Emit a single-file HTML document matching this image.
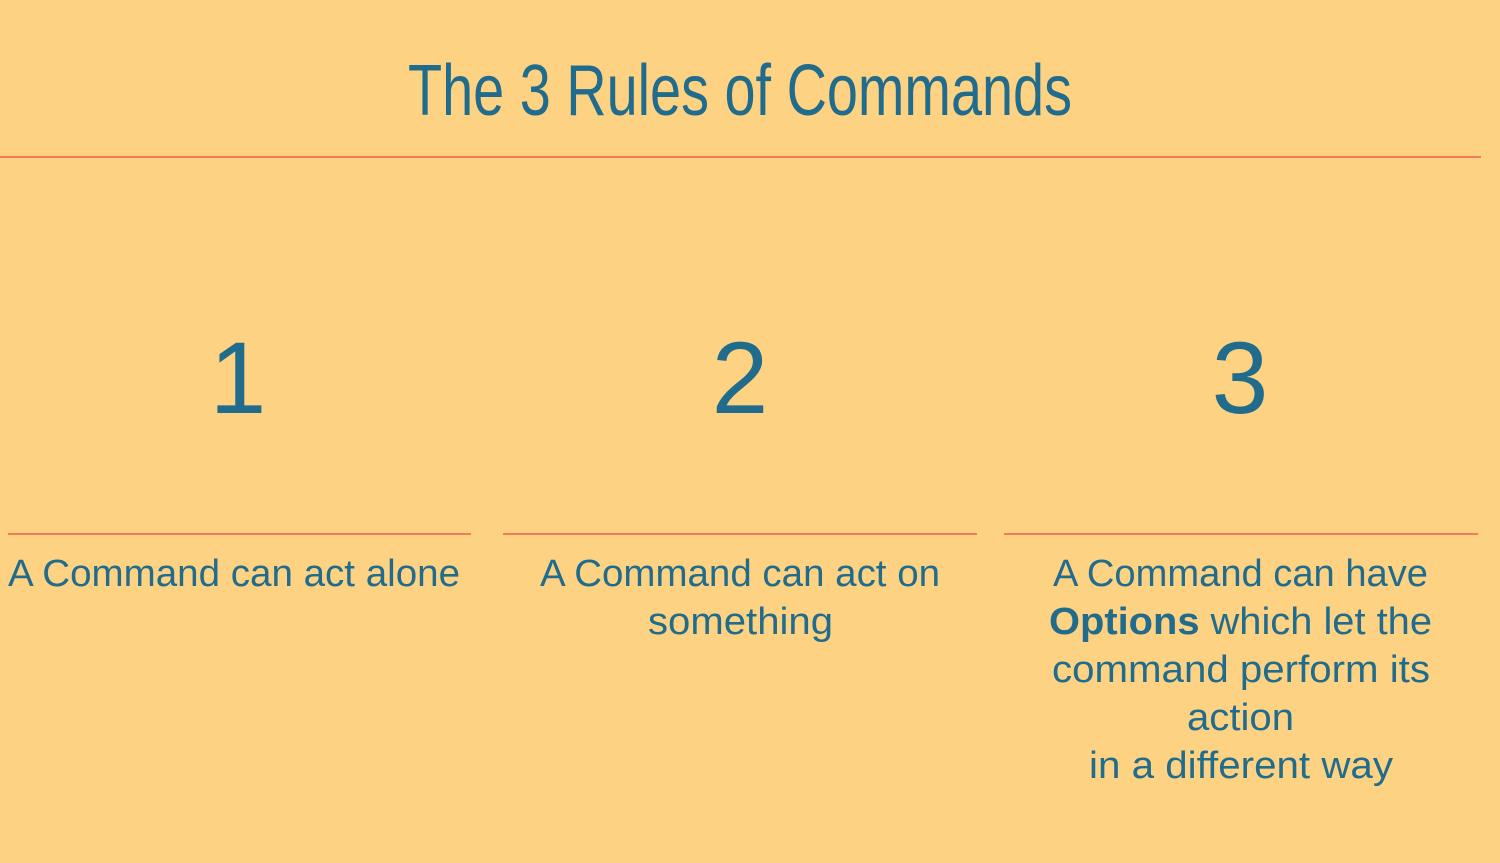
<!DOCTYPE html>
<html><head><meta charset="utf-8"><style>
html,body{margin:0;padding:0;background:#FDD283;}
svg{display:block}
text{font-family:"Liberation Sans",sans-serif;fill:#216C8C;}
</style></head><body>
<svg width="1500" height="863" viewBox="0 0 1500 863" xmlns="http://www.w3.org/2000/svg">
<rect width="1500" height="863" fill="#FDD283"/>
<text x="408" y="115" font-size="72" textLength="664" lengthAdjust="spacingAndGlyphs">The 3 Rules of Commands</text>
<line x1="0" y1="157" x2="1481" y2="157" stroke="#F07C5C" stroke-width="2"/>
<text x="238" y="413" font-size="102" text-anchor="middle">1</text>
<text x="740" y="413" font-size="102" text-anchor="middle">2</text>
<text x="1240" y="413" font-size="102" text-anchor="middle">3</text>
<line x1="8" y1="534" x2="471" y2="534" stroke="#F07C5C" stroke-width="2"/>
<line x1="503" y1="534" x2="977" y2="534" stroke="#F07C5C" stroke-width="2"/>
<line x1="1004" y1="534" x2="1478" y2="534" stroke="#F07C5C" stroke-width="2"/>
<g font-size="38">
<text x="8" y="586" textLength="452" lengthAdjust="spacingAndGlyphs">A Command can act alone</text>
<text x="540" y="586" textLength="400" lengthAdjust="spacingAndGlyphs">A Command can act on</text>
<text x="648" y="634" textLength="185" lengthAdjust="spacingAndGlyphs">something</text>
<text x="1053" y="586" textLength="375" lengthAdjust="spacingAndGlyphs">A Command can have</text>
<text x="1049" y="634" textLength="383" lengthAdjust="spacingAndGlyphs"><tspan font-weight="bold">Options</tspan> which let the</text>
<text x="1052" y="682" textLength="378" lengthAdjust="spacingAndGlyphs">command perform its</text>
<text x="1187" y="730" textLength="107" lengthAdjust="spacingAndGlyphs">action</text>
<text x="1089" y="778" textLength="304" lengthAdjust="spacingAndGlyphs">in a different way</text>
</g>
</svg>
</body></html>
